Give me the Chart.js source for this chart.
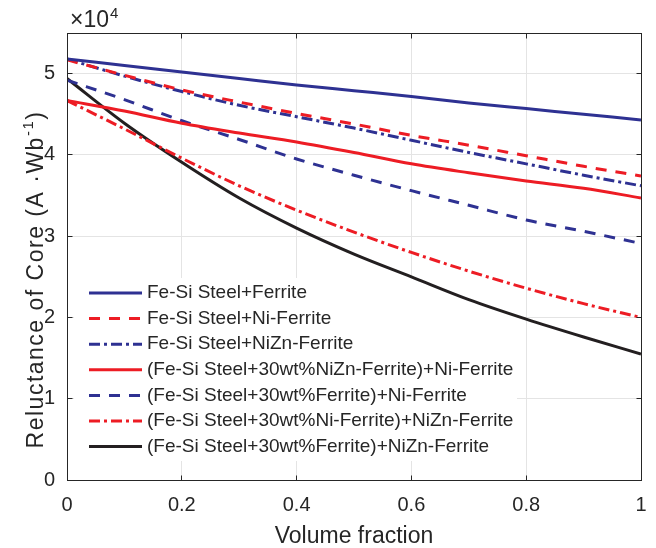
<!DOCTYPE html>
<html>
<head>
<meta charset="utf-8">
<script src="https://cdn.jsdelivr.net/npm/chart.js@4.4.1/dist/chart.umd.min.js"></script>
<style>
  html, body { margin: 0; padding: 0; background: #fff; }
</style>
</head>
<body>
<canvas id="reluctanceChart" width="656" height="548"></canvas>
<script>
// volume fraction of the ferrite part
const volumeFraction = [0, 0.1, 0.2, 0.3, 0.4, 0.5, 0.6, 0.7, 0.8, 0.9, 1];

// core reluctance, in units of 1e4 A/Wb
const feSiFerrite = [5.18, 5.10, 5.02, 4.94, 4.86, 4.79, 4.72, 4.64, 4.57, 4.50, 4.43];
const feSiNiFerrite = [5.17, 4.98, 4.80, 4.65, 4.51, 4.38, 4.24, 4.12, 3.99, 3.86, 3.74];
const feSiNiZnFerrite = [5.18, 4.97, 4.78, 4.61, 4.47, 4.33, 4.18, 4.03, 3.89, 3.75, 3.62];
const niZnMixNiFerrite = [4.67, 4.54, 4.39, 4.27, 4.16, 4.03, 3.89, 3.78, 3.68, 3.59, 3.47];
const ferriteMixNiFerrite = [4.92, 4.68, 4.42, 4.19, 3.95, 3.75, 3.56, 3.38, 3.20, 3.06, 2.91];
const niMixNiZnFerrite = [4.67, 4.32, 3.96, 3.62, 3.32, 3.05, 2.80, 2.57, 2.36, 2.17, 2.00];
const ferriteMixNiZnFerrite = [4.94, 4.39, 3.91, 3.47, 3.10, 2.78, 2.50, 2.22, 1.98, 1.76, 1.55];

const seriesNames = [
  'Fe-Si Steel+Ferrite',
  'Fe-Si Steel+Ni-Ferrite',
  'Fe-Si Steel+NiZn-Ferrite',
  '(Fe-Si Steel+30wt%NiZn-Ferrite)+Ni-Ferrite',
  '(Fe-Si Steel+30wt%Ferrite)+Ni-Ferrite',
  '(Fe-Si Steel+30wt%Ni-Ferrite)+NiZn-Ferrite',
  '(Fe-Si Steel+30wt%Ferrite)+NiZn-Ferrite',
];

const xTicks = [0, 0.2, 0.4, 0.6, 0.8, 1];
const yTicks = [0, 1, 2, 3, 4, 5];
const yExponent = 4;

const BLUE = '#2e3192';
const RED = '#ed1c24';
const BLACK = '#231f20';
const TEXT = '#262626';
const GRID = '#e4e4e4';
const FONT = '"Liberation Sans", Arial, Helvetica, sans-serif';
const DASH = [11, 9];
const DASH_DOT = [11, 4, 3, 4];

Chart.defaults.font.family = FONT;
Chart.defaults.color = TEXT;

function series(label, values, color, dash) {
  return {
    label,
    data: values.map((v, i) => ({ x: volumeFraction[i], y: v })),
    borderColor: color,
    backgroundColor: color,
    borderWidth: 3,
    borderDash: dash,
    pointRadius: 0,
    cubicInterpolationMode: 'monotone',
    fill: false,
  };
}

// legend sitting inside the plot, white box under the curves
const insetLegend = {
  id: 'insetLegend',
  beforeDatasetsDraw(chart, args, opts) {
    const { ctx } = chart;
    ctx.save();
    ctx.fillStyle = '#fff';
    ctx.fillRect(opts.box.x, opts.box.y, opts.box.w, opts.box.h);
    ctx.font = opts.fontSize + 'px ' + FONT;
    ctx.textBaseline = 'middle';
    chart.data.datasets.forEach((ds, i) => {
      const y = opts.firstRow + i * opts.rowGap;
      ctx.strokeStyle = ds.borderColor;
      ctx.lineWidth = ds.borderWidth;
      ctx.setLineDash(ds.borderDash || []);
      ctx.beginPath();
      ctx.moveTo(opts.lineX, y);
      ctx.lineTo(opts.lineX + opts.lineLen, y);
      ctx.stroke();
      ctx.fillStyle = TEXT;
      ctx.fillText(ds.label, opts.textX, y);
    });
    ctx.restore();
  },
};

// box around the axes with inward tick marks
const axesBox = {
  id: 'axesBox',
  afterDatasetsDraw(chart) {
    const { ctx, chartArea: a, scales } = chart;
    const L = Math.floor(a.left) + 0.5, R = Math.floor(a.right) + 0.5;
    const T = Math.floor(a.top) + 0.5, B = Math.floor(a.bottom) + 0.5;
    ctx.save();
    ctx.strokeStyle = TEXT;
    ctx.lineWidth = 1;
    ctx.strokeRect(L, T, R - L, B - T);
    ctx.beginPath();
    xTicks.forEach(v => {
      const px = Math.floor(scales.x.getPixelForValue(v)) + 0.5;
      ctx.moveTo(px, B); ctx.lineTo(px, B - 5);
      ctx.moveTo(px, T); ctx.lineTo(px, T + 5);
    });
    yTicks.forEach(v => {
      const py = Math.floor(scales.y.getPixelForValue(v)) + 0.5;
      ctx.moveTo(L, py); ctx.lineTo(L + 5, py);
      ctx.moveTo(R, py); ctx.lineTo(R - 5, py);
    });
    ctx.stroke();
    ctx.restore();
  },
};

// y axis label with superscript unit, and the x10^4 multiplier
const axisNotes = {
  id: 'axisNotes',
  afterDraw(chart) {
    const { ctx, chartArea: a } = chart;
    ctx.save();
    ctx.fillStyle = TEXT;
    ctx.textBaseline = 'alphabetic';
    ctx.textAlign = 'left';

    ctx.font = '23px ' + FONT;
    const mult = '\u00d710';
    ctx.fillText(mult, a.left + 3, a.top - 6);
    const mw = ctx.measureText(mult).width;
    ctx.font = '15px ' + FONT;
    ctx.fillText(String(yExponent), a.left + 4 + mw, a.top - 15);

    const head = 'Reluctance of Core (A \u00b7Wb';
    const sup = '-1';
    const tail = ')';
    const mainFont = '23px ' + FONT;
    const supFont = '15px ' + FONT;
    ctx.letterSpacing = '1.5px';
    ctx.font = mainFont;
    const wHead = ctx.measureText(head).width;
    const wTail = ctx.measureText(tail).width;
    ctx.font = supFont;
    const wSup = ctx.measureText(sup).width;
    const total = wHead + wSup + wTail;

    ctx.translate(43, (a.top + a.bottom) / 2 + 23);
    ctx.rotate(-Math.PI / 2);
    let x = -total / 2;
    ctx.font = mainFont;
    ctx.fillText(head, x, 0);
    x += wHead;
    ctx.font = supFont;
    ctx.fillText(sup, x, -10);
    x += wSup;
    ctx.font = mainFont;
    ctx.fillText(tail, x, 0);
    ctx.restore();
  },
};

new Chart(document.getElementById('reluctanceChart'), {
  type: 'line',
  data: {
    datasets: [
      series(seriesNames[0], feSiFerrite, BLUE, []),
      series(seriesNames[1], feSiNiFerrite, RED, DASH),
      series(seriesNames[2], feSiNiZnFerrite, BLUE, DASH_DOT),
      series(seriesNames[3], niZnMixNiFerrite, RED, []),
      series(seriesNames[4], ferriteMixNiFerrite, BLUE, DASH),
      series(seriesNames[5], niMixNiZnFerrite, RED, DASH_DOT),
      series(seriesNames[6], ferriteMixNiZnFerrite, BLACK, []),
    ],
  },
  options: {
    responsive: false,
    devicePixelRatio: 1,
    animation: false,
    layout: { padding: { left: 0, right: 15, top: 33, bottom: 0 } },
    plugins: {
      legend: { display: false },
      tooltip: { enabled: false },
      insetLegend: {
        box: { x: 74, y: 278, w: 443, h: 183 },
        firstRow: 293,
        rowGap: 25.6,
        lineX: 89,
        lineLen: 53,
        textX: 147,
        fontSize: 19,
      },
    },
    scales: {
      x: {
        type: 'linear',
        min: 0,
        max: 1,
        afterBuildTicks: s => { s.ticks = xTicks.map(v => ({ value: v })); },
        afterFit: s => {
          s.height = 68;
          s.paddingLeft = 0;
          s.paddingRight = 0;
        },
        ticks: {
          callback: v => String(v),
          font: { size: 20 },
          color: TEXT,
          padding: 13,
          maxRotation: 0,
          autoSkip: false,
        },
        grid: { color: GRID, drawTicks: false },
        border: { display: false },
        title: {
          display: true,
          text: 'Volume fraction',
          font: { size: 23, lineHeight: 1 },
          color: TEXT,
          padding: { top: 0, bottom: 0 },
        },
      },
      y: {
        min: 0,
        max: 5.5,
        afterBuildTicks: s => { s.ticks = yTicks.map(v => ({ value: v })); },
        afterFit: s => {
          s.width = 67;
          s.paddingTop = 0;
          s.paddingBottom = 0;
        },
        ticks: {
          callback: v => String(v),
          font: { size: 20 },
          color: TEXT,
          padding: 12,
        },
        grid: { color: GRID, drawTicks: false },
        border: { display: false },
      },
    },
  },
  plugins: [insetLegend, axesBox, axisNotes],
});
</script>
</body>
</html>
